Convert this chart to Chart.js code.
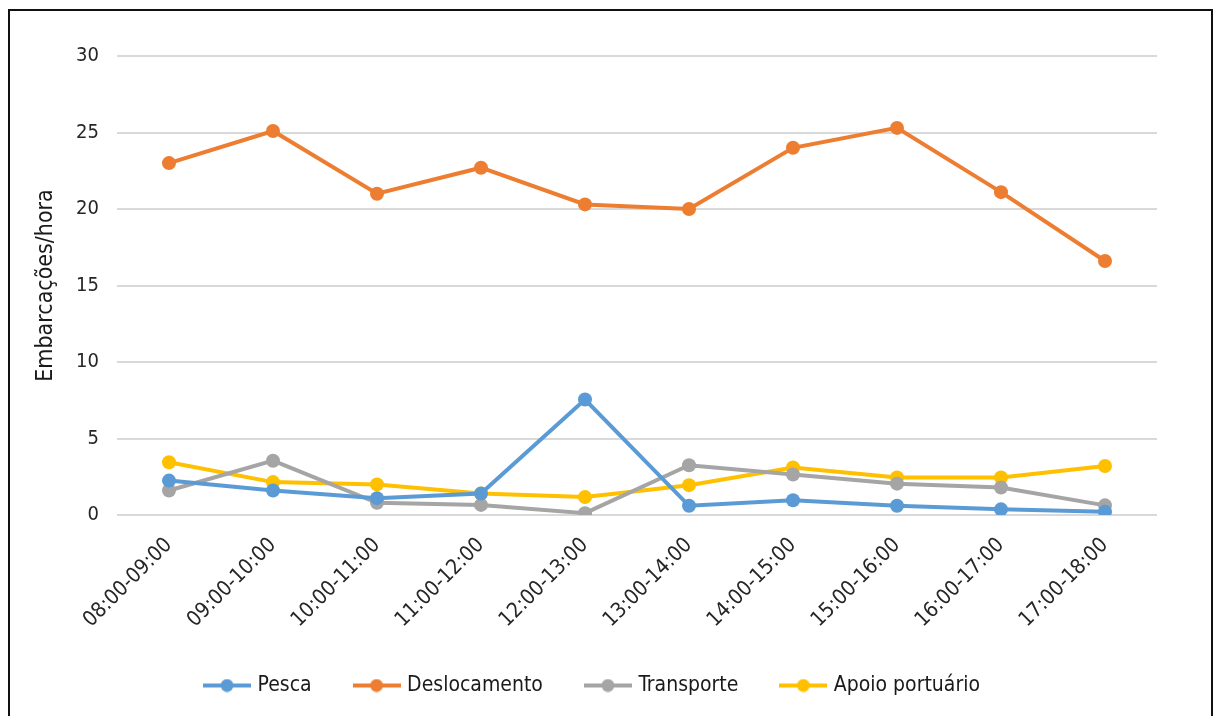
<!DOCTYPE html>
<html>
<head>
<meta charset="utf-8">
<script src="https://cdn.jsdelivr.net/npm/chart.js@4"></script>
<style>
  body { margin: 0; background: #fff; }
  #wrap { position: relative; width: 1215px; height: 716px; overflow: hidden; }
  #frame { position: absolute; left: 8px; top: 9px; width: 1201px; height: 720px; border: 2px solid #111; pointer-events: none; }
</style>
</head>
<body>
<div id="wrap">
  <canvas id="chart" width="1215" height="716"></canvas>
  <div id="frame"></div>
</div>
<script>
const periods = ['08:00-09:00', '09:00-10:00', '10:00-11:00', '11:00-12:00', '12:00-13:00',
    '13:00-14:00', '14:00-15:00', '15:00-16:00', '16:00-17:00', '17:00-18:00']

const pesca = [2.25, 1.6, 1.1, 1.4, 7.55, 0.6, 0.96, 0.6, 0.37, 0.22]
const deslocamento = [23.0, 25.1, 21.0, 22.7, 20.3, 20.0, 24.0, 25.3, 21.1, 16.6]
const transporte = [1.6, 3.55, 0.8, 0.66, 0.12, 3.25, 2.65, 2.05, 1.8, 0.63]
const apoio = [3.45, 2.15, 2.0, 1.4, 1.17, 1.95, 3.1, 2.45, 2.45, 3.2]

const seriesNames = ['Pesca', 'Deslocamento', 'Transporte', 'Apoio portuário']
const colors = ['#5B9BD5', '#ED7D31', '#A5A5A5', '#FFC000']

const font = "'DejaVu Sans Condensed', 'Liberation Sans', sans-serif"

// small line + dot image for the legend, like the office-style legend
function legendMark(color){
    const c = document.createElement('canvas')
    c.width = 48
    c.height = 14
    const ctx = c.getContext('2d')
    ctx.strokeStyle = color
    ctx.lineWidth = 4
    ctx.beginPath()
    ctx.moveTo(0, 7)
    ctx.lineTo(48, 7)
    ctx.stroke()
    ctx.fillStyle = color
    ctx.beginPath()
    ctx.arc(24, 7, 6.5, 0, Math.PI * 2)
    ctx.fill()
    return c
}

const allData = [pesca, deslocamento, transporte, apoio]

const datasets = allData.map((values, i) => ({
    label: seriesNames[i],
    data: values,
    borderColor: colors[i],
    backgroundColor: colors[i],
    borderWidth: 4,
    pointRadius: 7,
    pointHoverRadius: 7,
    pointBorderWidth: 0,
    tension: 0
}))

new Chart(document.getElementById('chart'), {
    type: 'line',
    data: {
        labels: periods,
        datasets: datasets
    },
    options: {
        responsive: false,
        animation: false,
        layout: {
            padding: { left: 30, right: 58, top: 56, bottom: 10 }
        },
        plugins: {
            tooltip: { enabled: false },
            legend: {
                position: 'bottom',
                labels: {
                    usePointStyle: true,
                    pointStyleWidth: 40,
                    color: '#1a1a1a',
                    font: { family: font, size: 21 },
                    padding: 45,
                    generateLabels: (chart) => chart.data.datasets.map((ds, i) => ({
                        text: ds.label,
                        fillStyle: ds.borderColor,
                        strokeStyle: ds.borderColor,
                        fontColor: '#1a1a1a',
                        pointStyle: legendMark(ds.borderColor),
                        datasetIndex: i,
                        lineWidth: 0
                    }))
                }
            }
        },
        scales: {
            x: {
                offset: true,
                grid: { display: false },
                border: { display: false },
                afterFit: (scale) => { scale.height = 115 },
                ticks: {
                    color: '#262626',
                    font: { family: font, size: 21 },
                    minRotation: 45,
                    maxRotation: 45,
                    padding: 10
                }
            },
            y: {
                min: 0,
                max: 30,
                border: { display: false },
                grid: { color: '#d9d9d9', lineWidth: 2, drawTicks: false },
                afterFit: (scale) => { scale.width = 87 },
                ticks: {
                    stepSize: 5,
                    color: '#262626',
                    font: { family: font, size: 20 },
                    padding: 18
                },
                title: {
                    display: true,
                    text: 'Embarcações/hora',
                    color: '#1a1a1a',
                    font: { family: font, size: 23 },
                    padding: { top: 2, bottom: 6 }
                }
            }
        }
    }
})
</script>
</body>
</html>
